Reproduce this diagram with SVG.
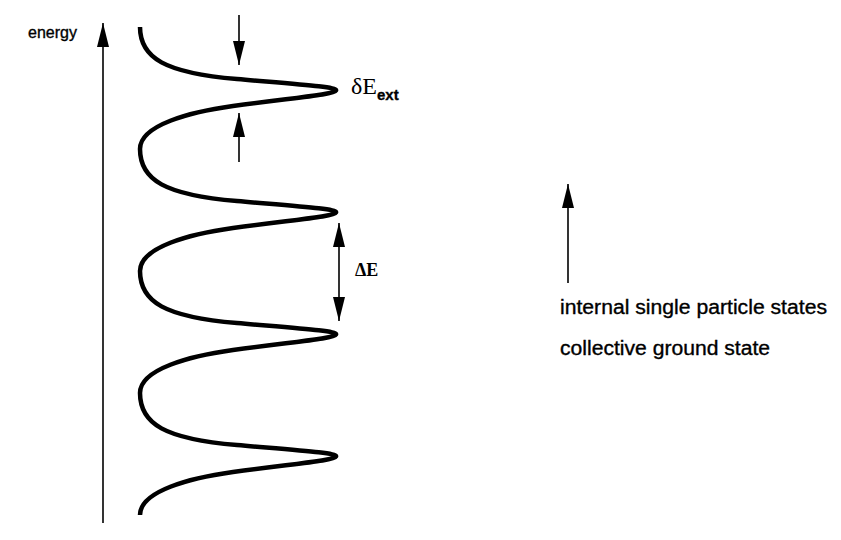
<svg xmlns="http://www.w3.org/2000/svg" width="841" height="540" viewBox="0 0 841 540">
<style>
.ln{stroke:#000;stroke-width:1.6;fill:none}
.wave{stroke:#000;stroke-width:4.5;fill:none;stroke-linejoin:round}
.sans{font-family:"Liberation Sans",Arial,sans-serif;fill:#000;stroke:#000;stroke-width:0.35}
.serif{font-family:"Liberation Serif","Times New Roman",serif;fill:#000}
</style>
<defs>
<marker id="head" viewBox="0 0 24 12" refX="24" refY="6" markerWidth="24" markerHeight="12" markerUnits="userSpaceOnUse" orient="auto">
<path d="M0,0 L24,6 L0,12 Z" fill="#000"/>
</marker>
</defs>
<rect width="841" height="540" fill="#fff"/>
<g id="energy-axis">
<text class="sans" x="28" y="38" font-size="16">energy</text>
</g>
<g id="wave">
<path class="wave" d="M140,27 c0,31 25,46 97,52 c63,5.5 101,8 99,11.5 c-2,4 -36,6.5 -103,15.5 c-43,6 -93,19 -93,43 c0,31 25,46 97,52 c63,5.5 101,8 99,11.5 c-2,4 -36,6.5 -103,15.5 c-43,6 -93,19 -93,43 c0,31 25,46 97,52 c63,5.5 101,8 99,11.5 c-2,4 -36,6.5 -103,15.5 c-43,6 -93,19 -93,43 c0,31 25,46 97,52 c63,5.5 101,8 99,11.5 c-2,4 -36,6.5 -103,15.5 c-43,6 -93,19 -93,43"/>
</g>
<g id="dE-ext-label">
<text class="serif" x="351" y="94" font-size="24">δE<tspan class="sans" font-size="15" font-weight="bold" stroke-width="0" dy="6">ext</tspan></text>
</g>
<g id="DeltaE-label">
<text class="serif" x="355" y="276" font-size="18" font-weight="bold">ΔE</text>
</g>
<g id="legend">
<text class="sans" x="560" y="314" font-size="20" textLength="267" lengthAdjust="spacingAndGlyphs">internal single particle states</text>
<text class="sans" x="560" y="355" font-size="20" textLength="210" lengthAdjust="spacingAndGlyphs">collective ground state</text>
</g>
<g id="connectors">
<line class="ln" x1="103" y1="523" x2="103" y2="23" marker-end="url(#head)"/>
<line class="ln" x1="239" y1="15" x2="239" y2="65" marker-end="url(#head)"/>
<line class="ln" x1="239" y1="162" x2="239" y2="113" marker-end="url(#head)"/>
<line class="ln" x1="339" y1="272" x2="339" y2="223" marker-end="url(#head)"/>
<line class="ln" x1="339" y1="272" x2="339" y2="321" marker-end="url(#head)"/>
<line class="ln" x1="568" y1="283" x2="568" y2="184" marker-end="url(#head)"/>
</g>
</svg>
